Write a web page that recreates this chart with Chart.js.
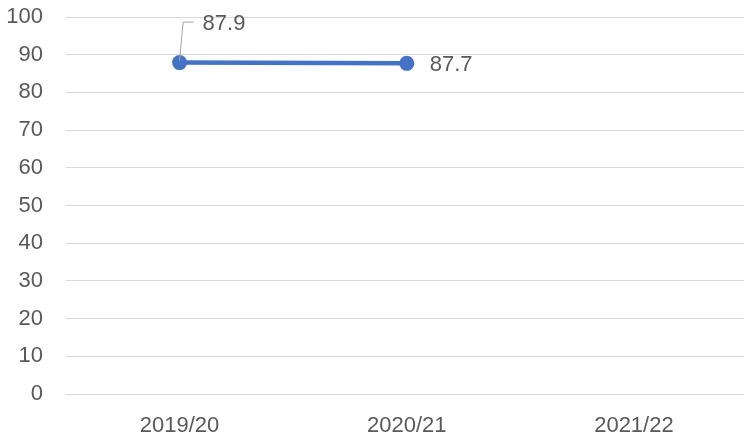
<!DOCTYPE html>
<html>
<head>
<meta charset="utf-8">
<script src="https://cdn.jsdelivr.net/npm/chart.js@4/dist/chart.umd.min.js"></script>
<style>
  html, body { margin: 0; padding: 0; background: #fff; overflow: hidden; }
  #wrap { width: 755px; height: 439px; }
</style>
</head>
<body>
<div id="wrap"><canvas id="c"></canvas></div>
<script>
// Academic years on the category axis
const categories = ['2019/20', '2020/21', '2021/22'];
// Rate per year (no value yet for 2021/22)
const rates = [87.9, 87.7, null];
// Value-axis range
const yMin = 0, yMax = 100, yStep = 10;

const FONT = "'Liberation Sans', Arial, sans-serif";
const TEXT = '#595959';
const SIZE = 22;

// Value labels: the first sits above with a bent leader line, the second to the right
const valueLabels = {
  id: 'valueLabels',
  afterDatasetsDraw(chart) {
    const ctx = chart.ctx;
    const meta = chart.getDatasetMeta(0);
    ctx.save();
    ctx.font = SIZE + 'px ' + FONT;
    ctx.fillStyle = TEXT;
    ctx.textBaseline = 'middle';
    ctx.textAlign = 'left';
    meta.data.forEach((pt, i) => {
      const v = rates[i];
      if (v === null || v === undefined) return;
      const text = v.toFixed(1);
      if (i === 0) {
        const ly = pt.y - 40.5;
        ctx.strokeStyle = '#a6a6a6';
        ctx.lineWidth = 1;
        ctx.beginPath();
        ctx.moveTo(pt.x, pt.y - 2);
        ctx.lineTo(pt.x + 3.5, ly);
        ctx.lineTo(pt.x + 14, ly);
        ctx.stroke();
        ctx.fillText(text, pt.x + 23, ly + 1.5);
      } else {
        ctx.fillText(text, pt.x + 23, pt.y + 1.5);
      }
    });
    ctx.restore();
  }
};

new Chart(document.getElementById('c'), {
  type: 'line',
  data: {
    labels: categories,
    datasets: [{
      data: rates,
      borderColor: '#4472C4',
      backgroundColor: '#4472C4',
      borderWidth: 4.5,
      pointRadius: 7.5,
      pointHoverRadius: 7.5,
      pointBorderWidth: 0,
      tension: 0,
      spanGaps: false
    }]
  },
  options: {
    responsive: true,
    maintainAspectRatio: false,
    animation: false,
    events: [],
    layout: { padding: { left: 7, right: 0, top: 17, bottom: 0 } },
    plugins: { legend: { display: false }, tooltip: { enabled: false } },
    scales: {
      x: {
        offset: true,
        grid: { display: false, drawTicks: false },
        border: { display: true, color: '#d9d9d9', width: 1 },
        ticks: { color: TEXT, font: { family: FONT, size: SIZE }, padding: 19, maxRotation: 0 },
        afterFit(scale) {
          // label band below the axis line
          scale.height = 45;
        }
      },
      y: {
        min: yMin, max: yMax,
        grid: { color: '#d9d9d9', lineWidth: 1, drawTicks: false },
        border: { display: false },
        ticks: { stepSize: yStep, color: TEXT, font: { family: FONT, size: SIZE }, padding: 23 },
        afterFit(scale) {
          // fixed label column and no extra vertical overhang
          scale.width = 59;
          scale.paddingTop = 0;
          scale.paddingBottom = 0;
        }
      }
    }
  },
  plugins: [valueLabels]
});
</script>
</body>
</html>
